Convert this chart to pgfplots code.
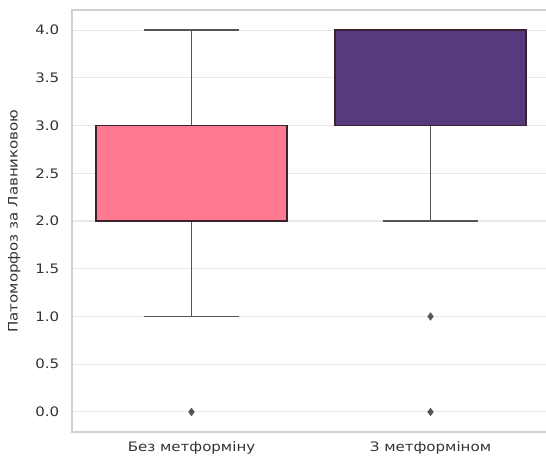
\documentclass[border=0pt]{standalone}
\usepackage{pgfplots}
\pgfplotsset{compat=1.18}
\usepgfplotslibrary{statistics}
\usepackage{fontspec}
\setmainfont[FakeStretch=1.15]{DejaVu Sans}
\definecolor{pinkbox}{HTML}{FF7A8E}
\definecolor{purplebox}{HTML}{563A7D}
\definecolor{edgec}{HTML}{3A2030}
\definecolor{whisk}{HTML}{555555}
\definecolor{gridc}{HTML}{E8E8E8}
\definecolor{spinec}{HTML}{D0D0D0}
\definecolor{textc}{HTML}{333333}
\begin{document}
\begin{tikzpicture}
\begin{axis}[
  scale only axis,
  width=358.5pt, height=316.5pt,
  xmin=-0.5, xmax=1.5,
  ymin=-0.21, ymax=4.21,
  xtick={0,1},
  xticklabels={Без метформіну, З метформіном},
  ytick={0,0.5,...,4.0},
  yticklabel style={/pgf/number format/.cd, fixed, fixed zerofill, precision=1, assume math mode=true},
  yticklabel shift=6pt,
  xticklabel shift=4pt,
  tick style={draw=none},
  ymajorgrids,
  grid style={gridc, line width=0.8pt},
  axis line style={spinec, line width=0.9pt},
  tick label style={font=\fontsize{9.8}{11}\selectfont, text=textc},
  every axis y label/.style={at={(axis description cs:-0.121,0.5)}, rotate=90, anchor=center},
  ylabel={Патоморфоз за Лавниковою},
  ylabel style={font=\fontsize{9.8}{11}\selectfont, text=textc},
  boxplot/draw direction=y,
  boxplot/whisker extend=0.4,
  boxplot/box extend=0.8,
  boxplot/every median/.style={/tikz/draw=edgec, /tikz/line width=1.3pt},
]
% whiskers (thick lines from the box statistics)
\addplot[whisk, line width=1.4pt, forget plot] coordinates {(0,1) (0,2)};
\addplot[whisk, line width=1.4pt, forget plot] coordinates {(0,3) (0,4)};
\addplot[whisk, line width=1.4pt, forget plot] coordinates {(-0.2,1) (0.2,1)};
\addplot[whisk, line width=1.4pt, forget plot] coordinates {(-0.2,4) (0.2,4)};
\addplot[whisk, line width=1.4pt, forget plot] coordinates {(1,2) (1,3)};
\addplot[whisk, line width=1.4pt, forget plot] coordinates {(0.8,2) (1.2,2)};
\addplot+[boxplot prepared={lower whisker=1, lower quartile=2, median=3, upper quartile=3, upper whisker=4, draw position=0},
  draw=whisk, line width=1.4pt, fill=pinkbox, solid,
  mark=diamond*, mark size=2pt, mark options={fill=whisk, draw=whisk},
  boxplot/every box/.style={/tikz/draw=edgec, /tikz/fill=pinkbox, /tikz/line width=1.3pt},
  ] coordinates {(0,0)};
\addplot+[boxplot prepared={lower whisker=2, lower quartile=3, median=4, upper quartile=4, upper whisker=4, draw position=1},
  draw=whisk, line width=1.4pt, fill=purplebox, solid,
  mark=diamond*, mark size=2pt, mark options={fill=whisk, draw=whisk},
  boxplot/every box/.style={/tikz/draw=edgec, /tikz/fill=purplebox, /tikz/line width=1.3pt},
  ] coordinates {(1,1) (1,0)};
\end{axis}
\pgfresetboundingbox
\path (-54pt,-21pt) rectangle (355.5pt,324pt);
\end{tikzpicture}
\end{document}
